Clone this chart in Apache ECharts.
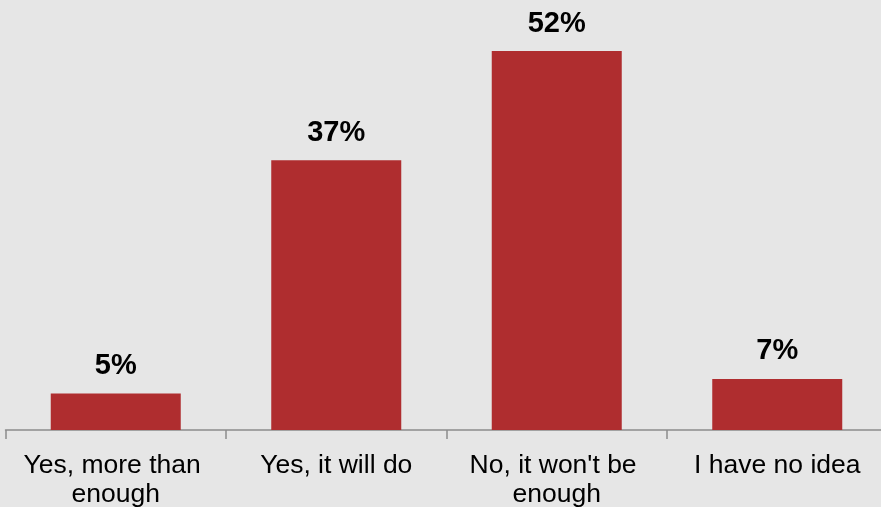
<!DOCTYPE html>
<html>
<head>
<meta charset="utf-8">
<script src="https://cdn.jsdelivr.net/npm/echarts@6/dist/echarts.min.js"></script>
<style>
  html, body { margin: 0; padding: 0; background: #e6e6e6; }
  #chart { width: 881px; height: 507px; }
</style>
</head>
<body>
<div id="chart"></div>
<script>
// Survey answers and their shares (%)
const categories = ['Yes, more than enough', 'Yes, it will do', "No, it won't be enough", 'I have no idea'];
const shares = [5, 37, 52, 7];

const chart = echarts.init(document.getElementById('chart'), null, { renderer: 'canvas' });

chart.setOption({
  backgroundColor: '#e6e6e6',
  animation: false,
  grid: { left: 5.5, width: 882, top: 0, bottom: 77, containLabel: false, outerBoundsMode: 'none' },
  xAxis: {
    type: 'category',
    data: categories,
    axisLine: { show: true, lineStyle: { color: '#8c8c8c', width: 1.5 } },
    axisTick: { show: true, length: 9, alignWithLabel: false, lineStyle: { color: '#8c8c8c', width: 1.5 } },
    axisLabel: {
      interval: 0,
      margin: 21,
      color: '#000',
      fontFamily: 'Liberation Sans, Arial, sans-serif',
      fontSize: 26.5,
      lineHeight: 29,
      width: 215,
      overflow: 'break'
    }
  },
  yAxis: {
    type: 'value',
    min: 0,
    max: 59,
    show: false,
    splitLine: { show: false }
  },
  series: [{
    type: 'bar',
    data: shares,
    barWidth: 130,
    itemStyle: { color: '#af2d2f' },
    label: {
      show: true,
      position: 'top',
      distance: 13,
      formatter: '{c}%',
      color: '#000',
      fontFamily: 'Liberation Sans, Arial, sans-serif',
      fontWeight: 'bold',
      fontSize: 29
    }
  }]
});
</script>
</body>
</html>
